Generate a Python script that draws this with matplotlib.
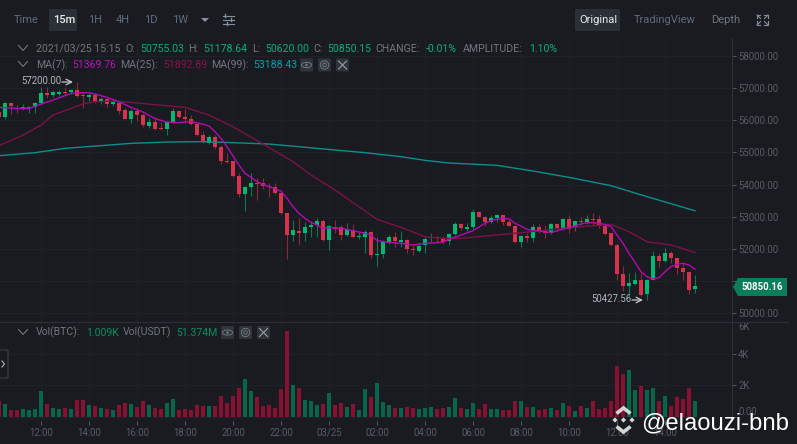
import numpy as np
import matplotlib
matplotlib.use('Agg')
import matplotlib.pyplot as plt
from matplotlib.patches import FancyBboxPatch, Polygon, Circle

plt.rcParams['font.family'] = ['Roboto', 'DejaVu Sans']

# 15m candles, index 0 is 12:00 on 03/24
candle_idx = np.arange(-7, 110)

open_ = [56269,56093,56528,56383,56383,56383,56424,
    56528,56860,56787,56818,56891,56880,56942,56787,56735,56797,
    56590,56663,56517,56549,56310,56030,56279,56165,55833,55937,
    55750,55719,55947,56279,56103,56051,55885,55543,55305,55471,
    55180,54745,54724,54268,53709,53937,54040,54040,53968,53916,
    53729,53107,52434,52568,52506,52693,52734,52869,52278,52693,
    52693,52423,52589,52361,52382,52537,51801,51833,52195,52372,
    52226,52278,51998,51947,52112,52330,52382,52351,52237,52465,
    52786,52631,52672,53159,53004,52828,52962,53045,52828,52724,
    52226,52403,52330,52693,52589,52485,52776,52662,52921,52641,
    52879,52838,52931,52921,52724,52486,52123,51211,50848,50921,
    51045,50589,51045,51781,51626,51885,51709,51398,51273,50755.03]
close = [56113,56549,56445,56341,56424,56424,56528,
    56860,56777,56870,56880,56860,56942,56756,56756,56797,56580,
    56652,56507,56569,56300,56051,56289,56155,55844,55937,55730,
    55719,55947,56279,56103,56041,55885,55543,55346,55471,55160,
    54724,54693,54268,53709,53926,54040,54009,53957,53916,53729,
    53107,52434,52579,52506,52693,52734,52869,52278,52714,52610,
    52423,52589,52382,52392,52517,51801,51833,52206,52361,52247,
    52278,51988,51967,52102,52320,52382,52330,52216,52465,52786,
    52641,52672,53159,53004,52828,52952,53045,52848,52724,52226,
    52403,52351,52693,52568,52485,52776,52662,52921,52631,52859,
    52838,52942,52900,52714,52476,52123,51221,50859,50931,51045,
    50568,51045,51781,51636,51885,51709,51398,51273,50724,50850.15]
high = [56321,56580,56540,56476,56507,56445,56580,
    57025,57025,56922,56942,57025,56974,57200,56839,56860,56839,
    56714,56683,56652,56611,56372,56341,56372,56217,56061,56113,
    55958,55989,56372,56300,56341,56165,55927,55678,55543,55543,
    55232,54973,54745,54351,53957,54351,54196,54196,54040,54061,
    53781,53120,52900,52952,52848,52848,52973,52921,52745,52900,
    52745,52796,52765,52537,52589,52568,52382,52278,52434,52537,
    52548,52299,52123,52175,52361,52506,52403,52403,52506,52848,
    52817,52796,53253,53170,53024,53056,53087,53066,52931,52745,
    52434,52506,52776,52765,52745,52817,52796,52952,53056,52879,
    52983,53056,53107,53056,52766,52507,52144,51481,51242,51294,
    51242,51066,51937,51885,52040,51937,51760,51553,51294,51178.64]
low = [56093,56030,56196,56217,56321,56217,56217,
    56507,56683,56714,56766,56787,56818,56735,56372,56600,56549,
    56507,56424,56445,56196,56030,55927,55989,55782,55750,55699,
    55699,55543,55906,56061,55958,55854,55512,55284,55263,55118,
    54641,54662,54248,53605,53170,53646,53522,53854,53626,53709,
    53087,51677,52258,52123,52258,52361,52361,52258,51967,52486,
    52278,52403,52361,52320,51884,51729,51470,51708,52154,52071,
    52050,51884,51812,51905,51864,52195,52175,52154,52123,52423,
    52589,52548,52610,52983,52724,52796,52848,52745,52714,52175,
    52050,52226,52226,52506,52330,52465,52610,52589,52485,52568,
    52745,52776,52745,52641,52434,52102,51035,50693,50465,50879,
    50548,50427.56,51024,51449,51584,51553,51211,51035,50589,50620]
volume = [989,800,400,400,484,442,484,
    1621,779,547,484,547,484,1031,1031,716,653,
    547,484,442,758,863,779,589,989,737,547,
    484,842,1095,421,484,421,737,695,674,674,
    1305,842,1305,1789,2421,1642,1221,674,737,547,
    1747,5410,1979,1810,1053,989,737,800,1516,716,
    863,589,800,421,1726,1242,2126,905,716,547,
    526,632,547,463,547,610,505,547,632,1179,
    526,484,884,505,800,463,463,442,400,968,
    989,632,589,442,484,547,400,863,674,337,
    653,547,989,463,547,989,3221,2737,2947,1684,
    1937,1684,1831,968,1326,695,1263,1137,1831,1009]

ma7_idx = [-7,-4,-2,0,2,4,5,6,8,9,11,13,15,17,19,21,23,25,27,28,29,30,31,32,33,34,35,36,37,38,39,40,
    41,42,43,44,45,46,47,48,50,52,54,55,56,58,60,62,64,66,67,68,70,72,74,75,76,77,78,79,80,81,82,83,84,
    85,86,87,88,89,90,91,92,93,94,95,96,97,98,99,100,101,102,103,104,105,106,107,108,109]
ma7 = [56403,56372,56372,56507,56631,56766,56839,56860,56860,56818,56714,56580,56403,56258,56051,55947,
    55927,55958,55885,55823,55647,55439,55180,54890,54610,54351,54227,54092,54009,53937,53864,53802,
    53574,53315,53107,52952,52828,52745,52641,52662,52641,52569,52486,52434,52257,52206,52175,52123,
    52175,52195,52216,52299,52434,52569,52797,52880,52921,52952,52931,52797,52714,52610,52569,52569,52527,
    52517,52558,52620,52662,52714,52776,52817,52817,52797,52765,52693,52434,52175,51864,51584,51293,51138,
    51066,51107,51293,51449,51522,51553,51501,51369.76]

ma25_idx = [-7,-3,0,2,5,7,9,12,15,19,24,28,32,37,42,45,49,52,56,60,64,67,70,74,79,87,90,95,98,101,105,109]
ma25 = [55212,55543,55854,56165,56372,56507,56580,56600,56559,56486,56403,56165,55802,55263,54714,54300,
    53833,53439,52921,52672,52382,52330,52330,52403,52486,52641,52693,52765,52537,52226,52123,51892.89]

ma99_idx = [-7,-1,4,10,15,21,27,32,38,43,49,54,60,64,68,76,82,88,95,101,109]
ma99 = [54900,54994,55129,55212,55284,55325,55336,55305,55263,55180,55077,54994,54870,54755,54673,54600,
    54424,54227,53968,53626,53188.43]

price_ticks = [50000,51000,52000,53000,54000,55000,56000,57000,58000]
price_labels = ['50000.00','','52000.00','53000.00','54000.00','55000.00','56000.00','57000.00','58000.00']
vol_ticks = [0,2000,4000,6000]
vol_labels = ['0.00','2K','4K','6K']
time_idx = [0,8,16,24,32,40,48,56,64,72,80,88,96,104]
time_labels = ['12:00','14:00','16:00','18:00','20:00','22:00','03/25','02:00','04:00','06:00','08:00','10:00','12:00','14:00']

BG = '#191b21'
GRID = '#1f2228'
EDGE = '#2b2f36'
DIM = '#555b65'
GREY = '#70777f'
GREEN = '#05b873'
RED = '#d8324c'
VGREEN = '#05664a'
VRED = '#881030'
TXTGREEN = '#07b074'

W, H = 797, 444
fig = plt.figure(figsize=(W/100, H/100), dpi=100, facecolor=BG)

def box(x0, y0, x1, y1):
    return [x0/W, 1-y1/H, (x1-x0)/W, (y1-y0)/H]

ax = fig.add_axes(box(0, 38, 732, 322), facecolor=BG)
vax = fig.add_axes(box(0, 322, 732, 421), facecolor=BG)

open_, close, high, low = map(np.array, (open_, close, high, low))
up = close >= open_
colors = np.where(up, GREEN, RED)

ax.vlines(candle_idx, low, high, colors=colors, linewidth=0.8, alpha=0.6, zorder=2)
ax.bar(candle_idx, np.maximum(np.abs(close-open_), 25), bottom=np.minimum(open_, close),
       width=0.75, color=colors, linewidth=0, zorder=3)
ax.plot(ma99_idx, ma99, color='#0b8f8c', linewidth=1.0, zorder=4)
ax.plot(ma25_idx, ma25, color='#7d1147', linewidth=1.0, zorder=4)
ax.plot(ma7_idx, ma7, color='#b509b5', linewidth=1.0, zorder=5)

vax.bar(candle_idx, volume, width=0.78, color=np.where(up, VGREEN, VRED), linewidth=0, zorder=3)

xlim = (-41/6, (732-41)/6)
ax.set_xlim(xlim)
ax.set_ylim(49729, 58560)
vax.set_xlim(xlim)
vax.set_ylim(-271, 5975)

for a in (ax, vax):
    a.yaxis.tick_right()
    a.grid(True, color=GRID, linewidth=0.7, zorder=0)
    a.set_axisbelow(True)
    for s in ('top', 'left', 'bottom'):
        a.spines[s].set_visible(False)
    a.spines['right'].set_color(EDGE)
    a.spines['right'].set_linewidth(0.8)
    a.set_xticks(time_idx)
    a.tick_params(axis='y', colors=DIM, length=3, width=0.7, pad=1.5, labelsize=6.9)
    a.tick_params(axis='x', colors=DIM, length=3, width=0.7, pad=2, labelsize=6.9)

ax.tick_params(axis='x', length=0, labelbottom=False)
ax.set_yticks(price_ticks)
ax.set_yticklabels(price_labels)
vax.set_yticks(vol_ticks)
vax.set_yticklabels(vol_labels)
vax.get_yticklabels()[0].set_va('bottom')
vax.get_yticklabels()[3].set_va('top')
vax.set_xticklabels(time_labels)

# everything around the plot is placed in pixels on an overlay
ui = fig.add_axes([0, 0, 1, 1], zorder=10)
ui.set_xlim(0, W)
ui.set_ylim(H, 0)
ui.axis('off')

ui.plot([0, 788], [322, 322], color=EDGE, linewidth=0.8)

def label(x, y, s, color=GREY, size=7.6, **kw):
    ui.text(x, y, s, color=color, fontsize=size, va='center', ha=kw.pop('ha', 'left'), **kw)

def rbox(x0, y0, x1, y1, fc=EDGE, ec='none'):
    ui.add_patch(FancyBboxPatch((x0+1, y0+1), x1-x0-2, y1-y0-2, boxstyle='round,pad=1',
                                fc=fc, ec=ec, linewidth=0.8))

def chevron(x, y):
    ui.plot([x-4.5, x, x+4.5], [y-2.5, y+2.5, y-2.5], color=GREY, linewidth=0.8)

def icons(y, xs):
    eye, target, cross = xs
    for x in xs:
        rbox(x-6.5, y-6.5, x+6.5, y+6.5, fc='#2f333a')
    t = np.linspace(0, np.pi, 20)
    ui.plot(eye+5*np.cos(t), y-2.6*np.sin(t), color=GREY, linewidth=0.7)
    ui.plot(eye+5*np.cos(t), y+2.6*np.sin(t), color=GREY, linewidth=0.7)
    ui.add_patch(Circle((eye, y), 1.3, fc=GREY, ec='none'))
    ui.add_patch(Circle((target, y), 4.2, fc='none', ec=GREY, linewidth=0.7))
    ui.add_patch(Circle((target, y), 1.8, fc='none', ec=GREY, linewidth=0.7))
    ui.plot([cross-4, cross+4], [y-4, y+4], color='#9aa0a8', linewidth=0.8)
    ui.plot([cross-4, cross+4], [y+4, y-4], color='#9aa0a8', linewidth=0.8)

# toolbar
TOOL = '#5f6b80'
rbox(49, 9, 77, 31)
rbox(575, 9, 620, 31)
label(14, 20, 'Time', TOOL, 8)
label(53, 20, '15m', '#e8eaed', 8, fontweight='medium')
for x, s in zip((88, 116, 144, 172), ('1H', '4H', '1D', '1W')):
    label(x, 20, s, TOOL, 8)
ui.add_patch(Polygon([(201, 18), (209, 18), (205, 22)], fc='#848e9c', ec='none'))
for yy, m in zip((16, 20, 24), (225, 231, 227)):
    ui.plot([223, 234], [yy, yy], color='#848e9c', linewidth=0.8)
    ui.plot([m, m], [yy-1.5, yy+1.5], color='#848e9c', linewidth=1)
label(579, 20, 'Original', '#e8eaed', 8)
label(634, 20, 'TradingView', TOOL, 8)
label(711, 20, 'Depth', GREY, 8)
for cx, cy, d in ((757, 15, (1, 1)), (768, 15, (-1, 1)), (757, 25, (1, -1)), (768, 25, (-1, -1))):
    ui.plot([cx+d[0]*3.5, cx, cx], [cy, cy, cy+d[1]*3.5], color='#848e9c', linewidth=0.8)
    ui.plot([cx, cx+d[0]*3.5], [cy, cy+d[1]*3.5], color='#848e9c', linewidth=0.8)

# header lines
chevron(23, 48)
label(35.7, 49, '2021/03/25 15:15')
for x, s in ((125, 'O:'), (188.5, 'H:'), (252, 'L:'), (313, 'C:'), (375, 'CHANGE:'), (462.7, 'AMPLITUDE:')):
    label(x, 49, s)
for x, s in ((140.5, '50755.03'), (203.5, '51178.64'), (265, '50620.00'), (327.5, '50850.15'),
             (425.7, '-0.01%'), (529.3, '1.10%')):
    label(x, 49, s, TXTGREEN)
chevron(23, 64)
label(35.7, 65, 'MA(7):')
label(72.7, 65, '51369.76', '#c010c0')
label(120.3, 65, 'MA(25):')
label(163, 65, '51892.89', '#8a1148')
label(211, 65, 'MA(99):')
label(253, 65, '53188.43', '#00a3a8')
icons(65, (306.5, 324.5, 342.5))

chevron(23, 332)
label(35.7, 332.5, 'Vol(BTC):')
label(86, 332.5, '1.009K', '#06905f')
label(123, 332.5, 'Vol(USDT)')
label(176.7, 332.5, '51.374M', '#06905f')
icons(332.5, (227.5, 245.5, 263.5))

# side handle
rbox(-6, 350, 8, 378, fc=BG, ec='#3a3f47')
ui.plot([2, 4.5, 2], [361, 364, 367], color='#b0b5bc', linewidth=0.8)

# high / low markers
label(21.7, 81.5, '57200.00', '#aeb4bc', 6.9)
ui.annotate('', xy=(73, 82), xytext=(62, 82), arrowprops=dict(arrowstyle='->', color='#c4c8cd', linewidth=0.9, shrinkA=0, shrinkB=0))
label(591.7, 299, '50427.56', '#aeb4bc', 6.9)
ui.annotate('', xy=(643, 300), xytext=(632, 300), arrowprops=dict(arrowstyle='->', color='#c4c8cd', linewidth=0.9, shrinkA=0, shrinkB=0))

# last price tag
ui.add_patch(Polygon([(733, 287), (738, 278), (787, 278), (787, 296), (738, 296)], fc='#0a7d5b', ec='none'))
label(742, 287, '50850.16', 'white', 6.9, fontweight='bold')

# watermark
LOGO = '#d5d5d5'
for cx, cy, r in ((623.5, 420, 2.6), (615, 420, 2.6), (632, 420, 2.6)):
    ui.add_patch(Polygon([(cx-r, cy), (cx, cy-r), (cx+r, cy), (cx, cy+r)], fc=LOGO, ec='none'))
for sign in (-1, 1):
    c = 420 + sign*13
    e = 420 + sign*5
    ui.plot([616.5, 623.5, 630.5], [e+sign*1.5, c-sign*1, e+sign*1.5], color=LOGO, linewidth=2.6,
            solid_joinstyle='miter', solid_capstyle='butt')
label(641.5, 423, '@elaouzi-bnb', 'white', 17.2, family='Liberation Sans')

fig.savefig('out.png', dpi=100, facecolor=BG)
